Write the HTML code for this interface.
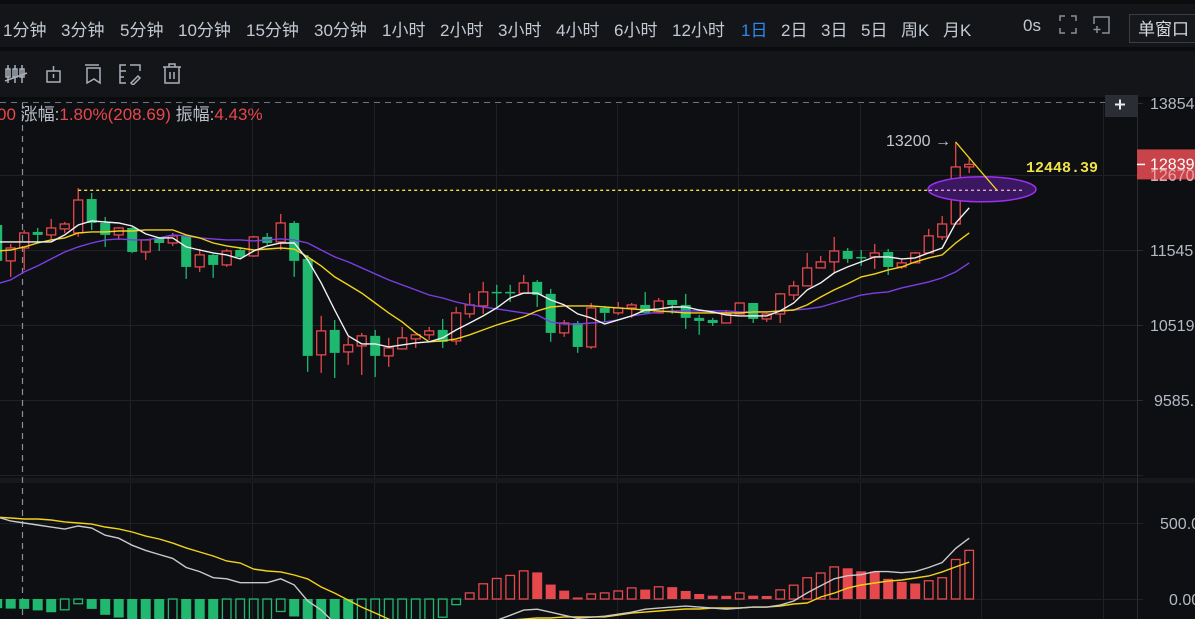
<!DOCTYPE html>
<html><head><meta charset="utf-8">
<style>
html,body{margin:0;padding:0;background:#0b0c0e;width:1195px;height:619px;overflow:hidden;font-family:"Liberation Sans","Noto Sans CJK SC",sans-serif;}
#bar1{position:absolute;left:0;top:4px;width:1195px;height:43px;background:#131519;}
#bar2{position:absolute;left:0;top:51px;width:1195px;height:46px;background:#131519;}
.tf{position:absolute;top:12px;font-size:17px;color:#c3c9d2;white-space:nowrap;}
.ic{position:absolute;top:11px;}
#win{position:absolute;left:1129px;top:10px;width:70px;height:29px;border:1px solid #3a3d43;background:#16181c;color:#d6dbe2;font-size:17px;line-height:29px;padding-left:8px;box-sizing:border-box;}
#chart{position:absolute;left:0;top:0;}
</style></head><body>
<div id="bar1">
<span class="tf" style="left:3px">1分钟</span>
<span class="tf" style="left:61px">3分钟</span>
<span class="tf" style="left:120px">5分钟</span>
<span class="tf" style="left:178px">10分钟</span>
<span class="tf" style="left:246px">15分钟</span>
<span class="tf" style="left:314px">30分钟</span>
<span class="tf" style="left:382px">1小时</span>
<span class="tf" style="left:440px">2小时</span>
<span class="tf" style="left:498px">3小时</span>
<span class="tf" style="left:556px">4小时</span>
<span class="tf" style="left:614px">6小时</span>
<span class="tf" style="left:672px">12小时</span>
<span class="tf" style="left:741px;color:#2f86ee">1日</span>
<span class="tf" style="left:781px">2日</span>
<span class="tf" style="left:821px">3日</span>
<span class="tf" style="left:861px">5日</span>
<span class="tf" style="left:901px">周K</span>
<span class="tf" style="left:943px">月K</span>
<span class="tf" style="left:1023px">0s</span>
<svg class="ic" style="left:1059px" width="18" height="20"><g stroke="#8a9099" stroke-width="1.5" fill="none"><path d="M1 6V1h5M12 1h5v5M1 13v5h5M17 13v5h-5"/></g></svg>
<svg class="ic" style="left:1092px" width="20" height="20"><g stroke="#8a9099" stroke-width="1.5" fill="none"><path d="M2 9V2h15v16H10"/><path d="M5 11v7M1.5 14.5h7"/></g></svg>
<div id="win">单窗口</div>
</div>
<div id="bar2">
<svg class="ic" style="left:4px;top:12px" width="24" height="22"><g stroke="#a9b0ba" stroke-width="1.5" fill="none"><path d="M4 2v18M11 2v18M18 2v18"/><rect x="2" y="6" width="4" height="8"/><rect x="9" y="6" width="4" height="8"/><rect x="16" y="6" width="4" height="8"/><path d="M1 18L23 10"/></g></svg>
<svg class="ic" style="left:45px;top:12px" width="18" height="22"><g stroke="#a9b0ba" stroke-width="1.5" fill="none"><rect x="2" y="8" width="13" height="11"/><path d="M8.5 3v5M8.5 11v4"/></g></svg>
<svg class="ic" style="left:83px;top:12px" width="20" height="22"><g stroke="#a9b0ba" stroke-width="1.5" fill="none"><path d="M2 2h14M4 5h13v15l-6-4-7 4z"/></g></svg>
<svg class="ic" style="left:118px;top:12px" width="26" height="22"><g stroke="#a9b0ba" stroke-width="1.5" fill="none"><path d="M8 2H2v18h6M2 8h6M2 14h4M12 2h10v6"/><path d="M13 20l7-7 2 2-7 7z"/></g></svg>
<svg class="ic" style="left:162px;top:12px" width="20" height="22"><g stroke="#a9b0ba" stroke-width="1.5" fill="none"><path d="M1 4h18M7 4V1h6v3M3 4v16h14V4M8 9v7M12 9v7"/></g></svg>
</div>
<svg id="chart" width="1195" height="619" style="position:absolute;left:0;top:0"></svg>
<script>
const candleIdx=[-1,0,1,2,3,4,5,6,7,8,9,10,11,12,13,14,15,16,17,18,19,20,21,22,23,24,25,26,27,28,29,30,31,32,33,34,35,36,37,38,39,40,41,42,43,44,45,46,47,48,49,50,51,52,53,54,55,56,57,58,59,60,61,62,63,64,65,66,67,68,69,70,71];
const opens=[11909,11390,11574,11807,11763,11851,11792,12299,11939,11763,11865,11517,11719,11646,11749,11305,11475,11333,11545,11460,11734,11661,11939,11418,10136,10455,10173,10249,10378,10123,10211,10339,10391,10455,10313,10665,10771,10960,10960,10943,11097,10933,10416,10545,10236,10744,10678,10744,10784,10678,10850,10784,10612,10585,10545,10664,10810,10598,10664,10918,11042,11291,11376,11531,11446,11446,11517,11305,11362,11503,11734,11924,12799];
const highs=[11953,11633,11836,11865,12000,11954,12468,12391,12029,11880,11880,11705,11734,11792,11763,11560,11489,11560,11589,11749,11792,12074,11969,11475,10639,10585,10365,10416,10455,10352,10493,10391,10493,10598,10757,10943,11097,11056,11056,11193,11124,11001,10585,10572,10810,10771,10824,10810,10960,10877,10850,10933,10651,10612,10717,10810,10810,10678,10943,11111,11503,11460,11734,11574,11545,11633,11560,11418,11517,11851,12044,13206,12943];
const lows=[11333,11166,11263,11646,11690,11792,11734,11836,11589,11690,11503,11404,11531,11604,11138,11235,11152,11305,11432,11446,11618,11545,11166,9924,9911,9850,10011,9886,9862,9986,10211,10224,10326,10224,10262,10612,10665,10757,10824,10933,10757,10301,10365,10161,10211,10559,10651,10612,10665,10678,10665,10468,10391,10506,10545,10664,10545,10559,10545,10850,11042,11291,11221,11362,11319,11277,11193,11277,11362,11503,11690,11924,12702];
const closes=[11390,11574,11792,11763,11865,11924,12284,11939,11763,11865,11517,11690,11646,11749,11305,11475,11333,11531,11446,11734,11646,11939,11390,10123,10442,10161,10262,10378,10123,10224,10352,10391,10442,10301,10678,10784,10960,10943,10943,11083,10918,10416,10545,10236,10744,10678,10744,10784,10678,10837,10784,10612,10572,10545,10665,10810,10598,10664,10933,11042,11291,11376,11531,11418,11432,11503,11305,11362,11503,11749,11924,12799,12839];
const ma5=[11661,11661,11661,11661,11661,11763,11909,11969,11954,11939,11894,11778,11719,11719,11589,11545,11503,11475,11418,11531,11604,11646,11646,11404,11083,10717,10378,10275,10275,10236,10262,10288,10301,10352,10455,10545,10638,10744,10877,10943,10943,10850,10784,10664,10612,10532,10585,10638,10717,10731,10757,10757,10717,10691,10651,10638,10638,10638,10704,10810,10987,11083,11221,11305,11376,11446,11446,11418,11432,11503,11574,11939,12164];
const ma10=[11531,11545,11589,11646,11690,11719,11792,11807,11807,11821,11821,11836,11836,11836,11763,11719,11646,11604,11574,11545,11560,11574,11560,11446,11319,11166,11056,10943,10810,10678,10559,10416,10301,10313,10339,10391,10455,10519,10572,10625,10704,10757,10771,10771,10771,10757,10744,10731,10717,10704,10691,10678,10678,10678,10678,10678,10691,10691,10704,10717,10784,10891,10987,11070,11166,11207,11263,11305,11376,11432,11475,11646,11792];
const ma30=[11070,11124,11235,11319,11418,11517,11589,11646,11690,11705,11690,11690,11719,11763,11749,11719,11705,11690,11690,11676,11690,11705,11690,11646,11545,11446,11376,11291,11207,11124,11056,10987,10918,10877,10824,10784,10757,10731,10704,10678,10651,10559,10532,10532,10545,10559,10585,10638,10664,10691,10704,10704,10704,10704,10704,10691,10691,10691,10704,10717,10731,10757,10810,10864,10918,10943,10960,11015,11056,11097,11152,11235,11362];
const macdHist=[-60,-63,-65,-75,-87,-71,-31,-65,-104,-122,-150,-160,-170,-165,-180,-190,-200,-190,-175,-160,-150,-82,-115,-200,-250,-280,-290,-270,-250,-230,-200,-175,-150,-120,-37,40,100,135,155,185,175,95,55,10,33,40,53,73,62,80,78,53,33,22,21,40,22,20,60,91,140,171,211,202,182,180,133,113,102,120,140,260,320];
const macdDif=[540,513,500,487,473,460,480,467,420,400,353,320,293,267,207,180,140,133,107,107,107,133,93,-13,-73,-160,-227,-280,-313,-327,-313,-280,-247,-213,-193,-173,-153,-140,-107,-73,-67,-87,-107,-127,-120,-113,-100,-87,-67,-60,-53,-47,-53,-60,-67,-60,-53,-53,-40,-13,40,87,133,153,160,180,180,173,180,207,240,333,400];
const macdDea=[539,533,526,526,520,507,500,493,474,461,441,414,395,368,336,309,283,250,237,197,184,178,158,132,79,39,-7,-53,-92,-132,-164,-191,-204,-211,-204,-191,-171,-151,-138,-132,-125,-125,-118,-118,-118,-118,-105,-92,-86,-79,-72,-66,-66,-59,-59,-59,-53,-53,-46,-33,-26,13,39,72,92,105,118,125,138,151,178,211,243];
const priceTicks=[13854,12670,11545,10519,9585];
const priceTickLabels=["13854","12670","11545","10519","9585."];
const macdTicks=[500,0];
const macdTickLabels=["500.0","0.00"];
const lastPrice=12839, peakPrice=13200, levelPrice=12448.39;

const NS='http://www.w3.org/2000/svg';
const svg=document.getElementById('chart');
function mk(tag,attrs,parent){const e=document.createElementNS(NS,tag);for(const k in attrs)e.setAttribute(k,attrs[k]);(parent||svg).appendChild(e);return e;}
const X0=10.7, STEP=13.5;
function xAt(i){return X0+STEP*i;}
function yPrice(p){return 250-(Math.log(p)-Math.log(11545))/0.0012413;}
function yMacd(v){return 599-v*0.152;}

let bg=mk('rect',{x:0,y:100,width:1195,height:519,fill:'#0e0f12'});


const defs=mk('defs',{});
const c1=mk('clipPath',{id:'mainClip'},defs);mk('rect',{x:0,y:104,width:1137,height:374},c1);
const c2=mk('clipPath',{id:'macdClip'},defs);mk('rect',{x:0,y:484,width:1137,height:135},c2);

const grid=mk('g',{stroke:'#1f2125','stroke-width':1});


[130,252,374,496,617,738,860,981,1103].forEach(x=>mk('line',{x1:x+.5,y1:104,x2:x+.5,y2:619},grid));
priceTicks.slice(1).forEach(p=>{const y=Math.round(yPrice(p))+.5;mk('line',{x1:0,y1:y,x2:1143,y2:y},grid);});
mk('line',{x1:0,y1:475.5,x2:1143,y2:475.5},grid);
macdTicks.forEach(v=>{const y=Math.round(yMacd(v))+.5;mk('line',{x1:0,y1:y,x2:1143,y2:y},grid);});
let sep=mk('rect',{x:0,y:478,width:1195,height:5,fill:'#16181b'});


let ax=mk('line',{x1:1137.5,y1:97,x2:1137.5,y2:619,stroke:'#2a2c31','stroke-width':1});



let td=mk('line',{x1:0,y1:102.5,x2:1105,y2:102.5,stroke:'#6f757d','stroke-width':1,'stroke-dasharray':'6 5'});


let cv=mk('line',{x1:22.5,y1:103,x2:22.5,y2:619,stroke:'#8a9099','stroke-width':1.2,'stroke-dasharray':'6 5'});



const cg=mk('g',{'clip-path':'url(#mainClip)'});


candleIdx.forEach((idx,k)=>{
  const x=xAt(idx), o=opens[k], c=closes[k];
  const up=c>=o, col=up?'#e5484d':'#1fb86e';
  const yo=yPrice(o), yc=yPrice(c), yh=yPrice(highs[k]), yl=yPrice(lows[k]);
  const top=Math.min(yo,yc), bot=Math.max(yo,yc);
  const g=mk('g',{},cg);
  
  
  mk('line',{x1:x,y1:yh,x2:x,y2:top,stroke:col,'stroke-width':1.3},g);
  mk('line',{x1:x,y1:bot,x2:x,y2:yl,stroke:col,'stroke-width':1.3},g);
  if(up) mk('rect',{x:x-4.5,y:top,width:9,height:Math.max(bot-top,1),fill:'none',stroke:col,'stroke-width':1.3},g);
  else mk('rect',{x:x-5,y:top,width:10,height:Math.max(bot-top,1.5),fill:col},g);
});
function linePath(arr,yf){return arr.map((v,k)=>(k?'L':'M')+xAt(candleIdx[k]).toFixed(1)+' '+yf(v).toFixed(1)).join('');}
[[ma30,'#7b3fe4','ma30-line'],[ma10,'#f2d21b','ma10-line'],[ma5,'#f2f2f2','ma5-line']].forEach(([a,col,n])=>{
  const p=mk('path',{d:linePath(a,yPrice),fill:'none',stroke:col,'stroke-width':1.4,'clip-path':'url(#mainClip)'});
  
  
});
const ly=yPrice(levelPrice)+1;
let lvl=mk('line',{x1:xAt(5),y1:ly,x2:927,y2:ly,stroke:'#f2e24a','stroke-width':1.3,'stroke-dasharray':'3 3'});


let ell=mk('ellipse',{cx:982,cy:ly-1,rx:54,ry:12.5,fill:'#3a1760',stroke:'#9b30f0','stroke-width':1.5});


let lvl2=mk('line',{x1:929,y1:ly,x2:1024,y2:ly,stroke:'#d9a8c8','stroke-width':1.3,'stroke-dasharray':'3 3'});


let tl=mk('line',{x1:xAt(70),y1:yPrice(peakPrice),x2:997,y2:ly,stroke:'#f2d21b','stroke-width':1.3});


let pk=mk('text',{x:886,y:yPrice(peakPrice)+4,fill:'#c3c7cd','font-size':16,'font-family':'Liberation Sans, sans-serif'});
pk.textContent=peakPrice+' →';


let lv=mk('text',{x:1026,y:172,fill:'#f2e24a','font-size':15,'font-weight':'bold','font-family':'Liberation Mono, monospace'});
lv.textContent=levelPrice.toFixed(2);



const hg=mk('g',{'clip-path':'url(#macdClip)'});


macdHist.forEach((v,k)=>{
  const x=xAt(candleIdx[k]), y0=yMacd(0), y1=yMacd(v);
  const prev=k?macdHist[k-1]:v;
  const col=v>=0?'#e5484d':'#1fb86e';
  const hollow=v>prev;
  const top=Math.min(y0,y1), h=Math.max(Math.abs(y1-y0),2);
  let r;
  if(hollow) r=mk('rect',{x:x-4.3,y:top,width:8.6,height:h,fill:'none',stroke:col,'stroke-width':1.3},hg);
  else r=mk('rect',{x:x-5,y:top,width:10,height:h,fill:col},hg);
  
  
});
[[macdDea,'#f2d21b','macd-dea-line'],[macdDif,'#c9c9c9','macd-dif-line']].forEach(([a,col,n])=>{
  const p=mk('path',{d:linePath(a,yMacd),fill:'none',stroke:col,'stroke-width':1.4,'clip-path':'url(#macdClip)'});
  
  
});

const al=mk('g',{fill:'#b3bac4','font-size':16,'font-family':'Liberation Sans, sans-serif'});


priceTicks.forEach((p,k)=>{
  const y=yPrice(p);
  mk('line',{x1:1137,y1:Math.round(y)+.5,x2:1143,y2:Math.round(y)+.5,stroke:'#2a2c31'},al);
  const t=mk('text',{x:k==4?1154:1150,y:y+6},al);t.textContent=priceTickLabels[k];
});
macdTicks.forEach((v,k)=>{
  const y=yMacd(v);
  const t=mk('text',{x:k==0?1160:1169,y:y+6},al);t.textContent=macdTickLabels[k];
});
let pb=mk('rect',{x:1105,y:95,width:33,height:22,fill:'#2a2d33'});


mk('path',{d:'M1115 104.5h10M1120 99.5v10',stroke:'#e8eaee','stroke-width':2});
mk('rect',{x:1138,y:88,width:57,height:9,fill:'#131519'});
const ty=yPrice(lastPrice);
let tag=mk('rect',{x:1137,y:ty-15,width:58,height:30,fill:'#c8434a'});


let t2=mk('text',{x:1150,y:ty+16,fill:'#e9a3a6','font-size':16,'font-family':'Liberation Sans, sans-serif'});t2.textContent='12670';
mk('line',{x1:1137,y1:ty,x2:1145,y2:ty,stroke:'#fff','stroke-width':1.5});
let tt=mk('text',{x:1150,y:ty+5,fill:'#ffffff','font-size':16,'font-family':'Liberation Sans, sans-serif'});
tt.textContent=String(lastPrice);



const info=mk('text',{x:-3,y:120,'font-size':17,'font-family':'Liberation Sans, Noto Sans CJK SC, sans-serif'});


[['00 ','#e5484d'],['涨幅:','#b9bfc8'],['1.80%(208.69) ','#e5484d'],['振幅:','#b9bfc8'],['4.43%','#e5484d']].forEach(([s,c])=>{const ts=mk('tspan',{fill:c},info);ts.textContent=s;});
</script>
</body></html>
